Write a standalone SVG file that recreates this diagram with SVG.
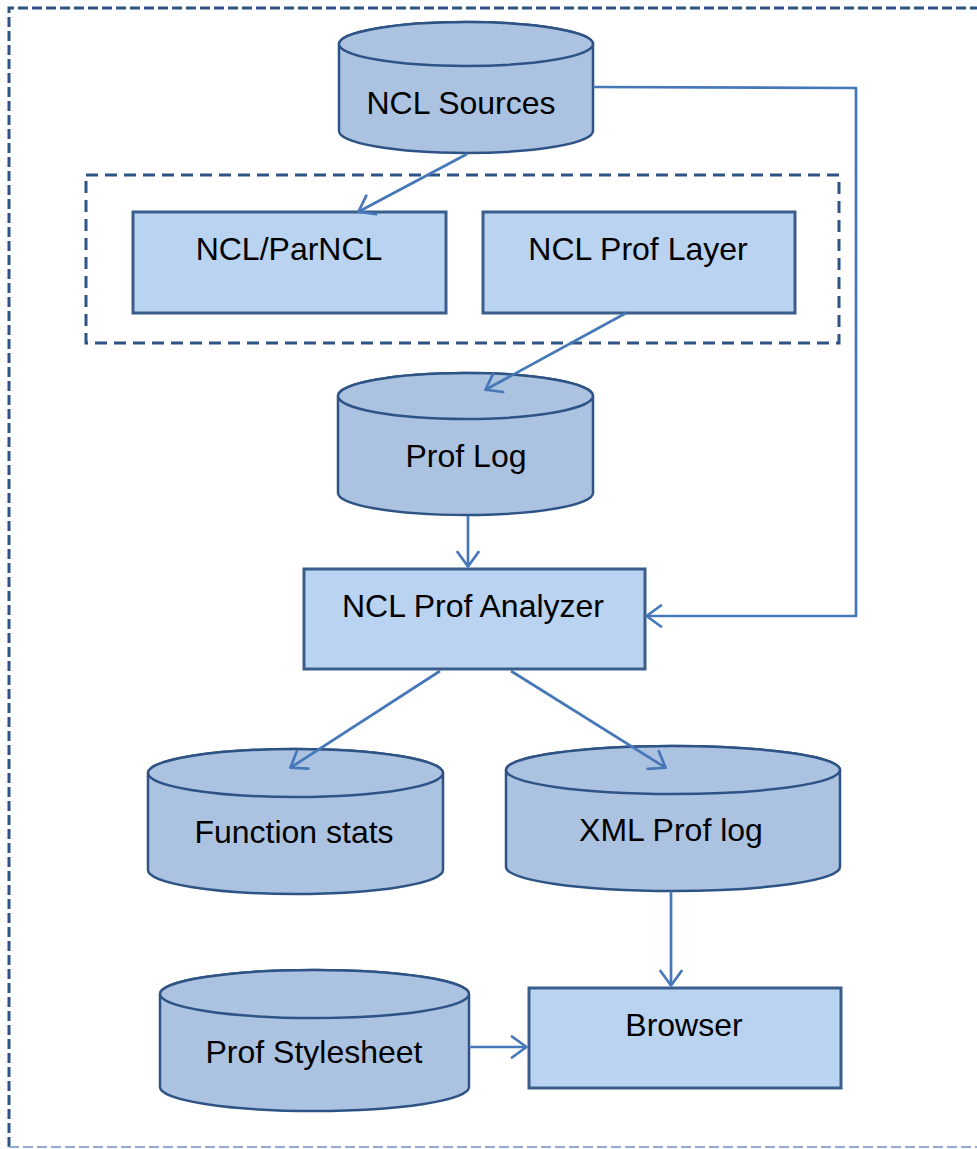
<svg xmlns="http://www.w3.org/2000/svg" width="977" height="1149" viewBox="0 0 977 1149">
  <style>
    .cyl { fill: #abc3e0; stroke: #2e5385; stroke-width: 2.5; }
    .box { fill: #b9d3f0; stroke: #3a5e8c; stroke-width: 3; }
    .lbl { font-family: "Liberation Sans", Arial, sans-serif; font-size: 32px; fill: #000; text-anchor: middle; }
    .conn { fill: none; stroke: #4677b8; stroke-width: 2.7; stroke-linejoin: round; }
    .frame { fill: none; stroke: #2e5385; stroke-width: 3; }
  </style>
  <defs>
    <marker id="open-arrow" viewBox="0 0 18 24" refX="17" refY="12" markerWidth="18" markerHeight="24" markerUnits="userSpaceOnUse" orient="auto">
      <path d="M2,1.5 L16.5,12 L2,22.5" fill="none" stroke="#4677b8" stroke-width="2.7" stroke-linecap="round" stroke-linejoin="round"/>
    </marker>
  </defs>

  <rect width="977" height="1149" fill="#ffffff"/>

  <!-- outer frame -->
  <path class="frame" d="M9,1147 L9,8 L985,8" stroke-dasharray="10 4"/>
  <line x1="9" y1="1147" x2="977" y2="1147" stroke="#93acd0" stroke-width="2" stroke-dasharray="10 4"/>

  <!-- grouping frame around the NCL layers -->
  <rect class="frame" x="86" y="175" width="753" height="168" stroke-dasharray="12 7"/>

  <g id="ncl-sources">
    <path class="cyl" d="M339,44 L339,131 A127,22 0 0 0 593,131 L593,44 A127,22 0 0 0 339,44 Z"/>
    <ellipse class="cyl" cx="466" cy="44" rx="127" ry="22"/>
    <text class="lbl" x="461" y="114">NCL Sources</text>
  </g>

  <g id="ncl-parncl">
    <rect class="box" x="133" y="212" width="313" height="101"/>
    <text class="lbl" x="289" y="260">NCL/ParNCL</text>
  </g>

  <g id="ncl-prof-layer">
    <rect class="box" x="483" y="212" width="312" height="101"/>
    <text class="lbl" x="638" y="260">NCL Prof Layer</text>
  </g>

  <g id="prof-log">
    <path class="cyl" d="M338,396 L338,493 A127.5,22 0 0 0 593,493 L593,396 A127.5,23 0 0 0 338,396 Z"/>
    <ellipse class="cyl" cx="465.5" cy="396" rx="127.5" ry="23"/>
    <text class="lbl" x="466" y="467">Prof Log</text>
  </g>

  <g id="ncl-prof-analyzer">
    <rect class="box" x="304" y="569" width="341" height="100"/>
    <text class="lbl" x="473" y="617">NCL Prof Analyzer</text>
  </g>

  <g id="function-stats">
    <path class="cyl" d="M148,773 L148,870 A147.5,24 0 0 0 443,870 L443,773 A147.5,24 0 0 0 148,773 Z"/>
    <ellipse class="cyl" cx="295.5" cy="773" rx="147.5" ry="24"/>
    <text class="lbl" x="294" y="843">Function stats</text>
  </g>

  <g id="xml-prof-log">
    <path class="cyl" d="M506,770 L506,867 A167,24 0 0 0 840,867 L840,770 A167,24 0 0 0 506,770 Z"/>
    <ellipse class="cyl" cx="673" cy="770" rx="167" ry="24"/>
    <text class="lbl" x="671" y="841">XML Prof log</text>
  </g>

  <g id="prof-stylesheet">
    <path class="cyl" d="M160,994 L160,1087 A154.5,24 0 0 0 469,1087 L469,994 A154.5,24 0 0 0 160,994 Z"/>
    <ellipse class="cyl" cx="314.5" cy="994" rx="154.5" ry="24"/>
    <text class="lbl" x="314" y="1063">Prof Stylesheet</text>
  </g>

  <g id="browser">
    <rect class="box" x="529" y="988" width="312" height="100"/>
    <text class="lbl" x="684" y="1036">Browser</text>
  </g>

  <!-- connectors drawn last so arrowheads sit on top of the cylinder lids -->
  <g id="connectors">
    <line class="conn" x1="467" y1="154" x2="358" y2="212" marker-end="url(#open-arrow)"/>
    <line class="conn" x1="626" y1="313" x2="485" y2="390" marker-end="url(#open-arrow)"/>
    <line class="conn" x1="468" y1="516" x2="468" y2="567" marker-end="url(#open-arrow)"/>
    <path class="conn" d="M593,87 L856,88 L856,616 L646,616" marker-end="url(#open-arrow)"/>
    <line class="conn" x1="440" y1="671" x2="290" y2="768" marker-end="url(#open-arrow)"/>
    <line class="conn" x1="511" y1="671" x2="666" y2="768" marker-end="url(#open-arrow)"/>
    <line class="conn" x1="671" y1="891" x2="671" y2="986" marker-end="url(#open-arrow)"/>
    <line class="conn" x1="469" y1="1047" x2="527" y2="1047" marker-end="url(#open-arrow)"/>
  </g>
</svg>
